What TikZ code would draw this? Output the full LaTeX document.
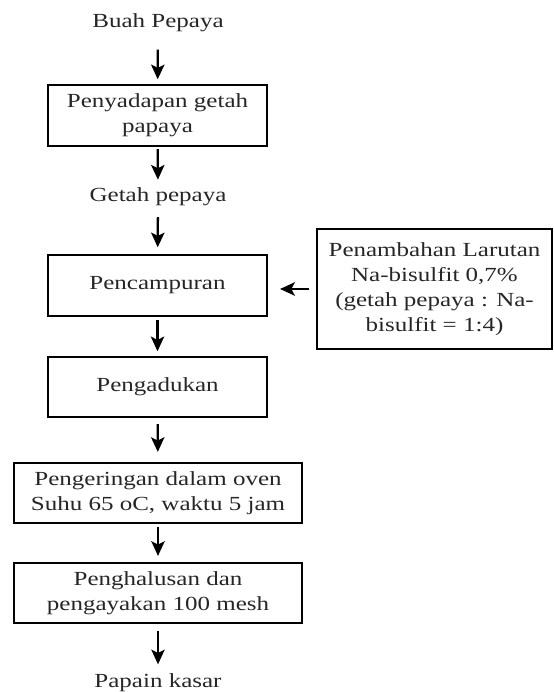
\documentclass[tikz,border=0pt]{standalone}
\usepackage{fontspec}
\setmainfont{Liberation Serif}[FakeStretch=1.25]
\usetikzlibrary{arrows.meta}
\tikzset{
 procbox/.style={draw,line width=1.6pt,align=center,inner sep=0pt,minimum width=164.25pt,minimum height=45.75pt},
 widebox/.style={procbox,minimum width=216pt,minimum height=45pt},
 stepname/.style={inner sep=0pt},
 flow/.style={line width=1.7pt,-{Stealth[length=11pt,width=10pt,inset=2.5pt]},shorten <=2pt,shorten >=3.5pt}
}
\begin{document}
\begin{tikzpicture}[x=0.75pt,y=-0.75pt,font=\fontsize{15}{18.75}\selectfont,text=black!85]
 \useasboundingbox (0,0) rectangle (553,692);
 \node[stepname] (buah) at (158,23) {Buah Pepaya};
 \node[procbox] (sadap) at (157.5,115.5) {Penyadapan getah\\papaya};
 \node[stepname] (getah) at (158,197) {Getah pepaya};
 \node[procbox] (campur) at (157.5,285.5) {Pencampuran};
 \node[procbox,minimum height=45pt] (aduk) at (157.5,387) {Pengadukan};
 \node[widebox] (kering) at (158,493) {Pengeringan dalam oven\\Suhu 65 oC, waktu 5 jam};
 \node[widebox] (halus) at (158,593) {Penghalusan dan\\pengayakan 100 mesh};
 \node[stepname] (papain) at (158,683) {Papain kasar};
 \node[procbox,minimum width=176.25pt,minimum height=90pt] (bisulfit) at (434.5,289) {Penambahan Larutan\\Na-bisulfit 0,7\%\\(getah pepaya : Na-\\bisulfit = 1:4)};
 \draw[flow,shorten <=13pt] (buah) -- (sadap);
 \draw[flow,shorten <=1.5pt,shorten >=6pt] (sadap) -- (getah);
 \draw[flow,shorten <=8pt,shorten >=5pt] (getah) -- (campur);
 \draw[flow] (campur) -- (aduk);
 \draw[flow,shorten <=4.5pt,shorten >=7.5pt] (aduk) -- (kering);
 \draw[flow,shorten >=4.5pt] (kering) -- (halus);
 \draw[flow,shorten <=5pt,shorten >=7pt] (halus) -- (papain);
 \draw[flow,shorten <=5pt,shorten >=9pt] (bisulfit.west) -- (bisulfit.west -| campur.east);
\end{tikzpicture}
\end{document}
